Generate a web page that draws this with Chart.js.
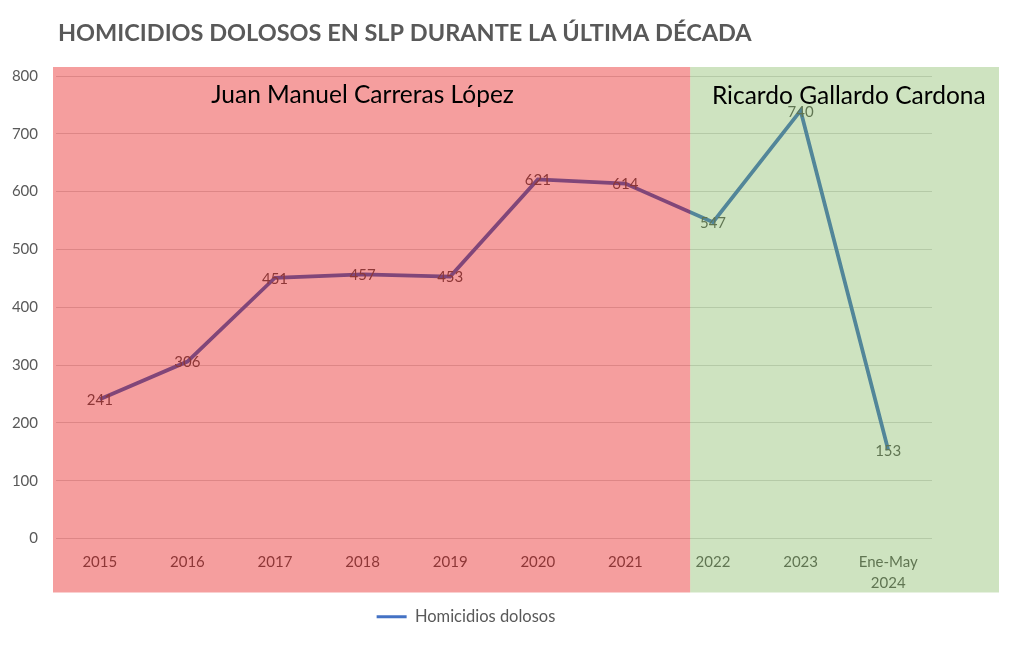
<!DOCTYPE html>
<html>
<head>
<meta charset="utf-8">
<script src="https://cdn.jsdelivr.net/npm/chart.js@4.4.1/dist/chart.umd.min.js"></script>
<style>
  html, body { margin: 0; padding: 0; background: #ffffff; }
  #wrap { width: 1024px; height: 668px; }
</style>
</head>
<body>
<div id="wrap"><canvas id="c" width="1024" height="668"></canvas></div>
<script>
const categories = ['2015', '2016', '2017', '2018', '2019', '2020', '2021', '2022', '2023', ['Ene-May', '2024']];
const homicidios = [241, 306, 451, 457, 453, 621, 614, 547, 740, 153];
const yTicks = [0, 100, 200, 300, 400, 500, 600, 700, 800];
const seriesName = 'Homicidios dolosos';
const titleText = 'HOMICIDIOS DOLOSOS EN SLP DURANTE LA ÚLTIMA DÉCADA';
const periodNames = ['Juan Manuel Carreras López', 'Ricardo Gallardo Cardona'];

const FONT = 'Lato, "Open Sans", sans-serif';

const chartTitle = {
  id: 'chartTitle',
  afterDraw(chart) {
    const ctx = chart.ctx;
    ctx.save();
    ctx.font = 'bold 23.5px ' + FONT;
    ctx.fillStyle = '#595959';
    ctx.textAlign = 'left';
    ctx.textBaseline = 'middle';
    ctx.fillText(titleText, 58, 33);
    ctx.restore();
  }
};

const valueLabels = {
  id: 'valueLabels',
  afterDatasetsDraw(chart) {
    const ctx = chart.ctx;
    const meta = chart.getDatasetMeta(0);
    ctx.save();
    ctx.font = '15px ' + FONT;
    ctx.fillStyle = '#595959';
    ctx.textAlign = 'center';
    ctx.textBaseline = 'middle';
    meta.data.forEach((pt, i) => {
      ctx.fillText(String(chart.data.datasets[0].data[i]), pt.x, pt.y + 1);
    });
    ctx.restore();
  }
};

const periodBoxes = {
  id: 'periodBoxes',
  afterDraw(chart) {
    const ctx = chart.ctx;
    const area = chart.chartArea;
    const x = chart.scales.x;
    const step = x.getPixelForValue(1) - x.getPixelForValue(0);
    const top = area.top - 9;
    const bottom = area.bottom + 54;
    const left = area.left - 3;
    const split = x.getPixelForValue(6) + step * 0.74;
    const right = area.right + 67;
    ctx.save();
    ctx.fillStyle = 'rgba(230, 0, 0, 0.38)';
    ctx.fillRect(left, top, split - left, bottom - top);
    ctx.fillStyle = 'rgba(112, 173, 71, 0.34)';
    ctx.fillRect(split, top, right - split, bottom - top);
    ctx.font = '24.5px ' + FONT;
    ctx.fillStyle = '#000000';
    ctx.textAlign = 'center';
    ctx.textBaseline = 'middle';
    ctx.fillText(periodNames[0], x.getPixelForValue(3), area.top + 19);
    ctx.fillText(periodNames[1], x.getPixelForValue(8) + step * 0.55, area.top + 20);
    ctx.restore();
  }
};

new Chart(document.getElementById('c'), {
  type: 'line',
  data: {
    labels: categories,
    datasets: [{
      label: seriesName,
      data: homicidios,
      borderColor: '#4472C4',
      backgroundColor: '#4472C4',
      borderWidth: 3.75,
      pointRadius: 0,
      tension: 0
    }]
  },
  options: {
    responsive: false,
    animation: false,
    layout: { padding: { left: 0, right: 92, top: 76, bottom: 33 } },
    plugins: {
      title: { display: false },
      legend: {
        display: true,
        position: 'bottom',
        labels: {
          boxWidth: 30,
          boxHeight: 3,
          color: '#595959',
          font: { family: FONT, size: 16.5 },
          generateLabels(chart) {
            const items = Chart.defaults.plugins.legend.labels.generateLabels(chart);
            items.forEach(it => { it.lineWidth = 0; it.fillStyle = '#4472C4'; });
            return items;
          }
        }
      },
      tooltip: { enabled: false }
    },
    scales: {
      x: {
        offset: true,
        grid: { display: false },
        border: { display: false },
        ticks: {
          color: '#595959',
          font: { family: FONT, size: 15, lineHeight: 1.35 },
          padding: 6,
          maxRotation: 0,
          autoSkip: false
        },
        afterFit(scale) { scale.height = 60; }
      },
      y: {
        min: 0,
        max: 800,
        afterBuildTicks(scale) { scale.ticks = yTicks.map(v => ({ value: v })); },
        grid: { color: '#D9D9D9', drawTicks: false, lineWidth: 1 },
        border: { display: false },
        ticks: {
          color: '#595959',
          font: { family: FONT, size: 15 },
          padding: 18
        },
        afterFit(scale) { scale.width = 56; }
      }
    }
  },
  plugins: [valueLabels, periodBoxes, chartTitle]
});
</script>
</body>
</html>
